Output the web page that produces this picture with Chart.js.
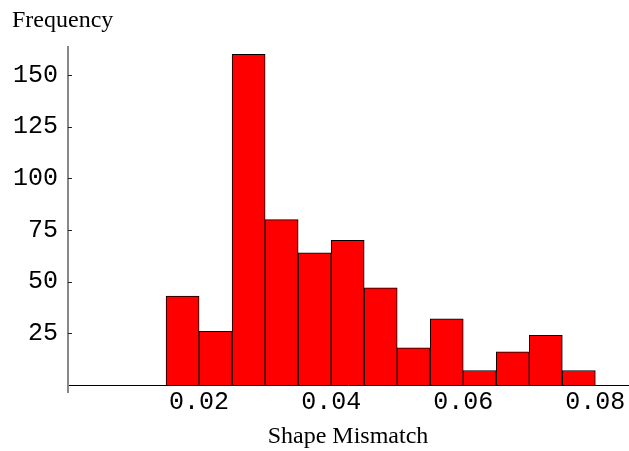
<!DOCTYPE html>
<html>
<head>
<meta charset="utf-8">
<script src="https://cdn.jsdelivr.net/npm/chart.js@4/dist/chart.umd.min.js"></script>
<style>
  html, body { margin: 0; padding: 0; background: #fff; }
  #wrap { width: 629px; height: 451px; }
</style>
</head>
<body>
<div id="wrap"><canvas id="myChart" width="629" height="451"></canvas></div>
<script>
// histogram bins (Shape Mismatch) and counts
const binEdges = [0.015, 0.020, 0.025, 0.030, 0.035, 0.040, 0.045, 0.050, 0.055, 0.060, 0.065, 0.070, 0.075, 0.080];
const counts = [43, 26, 160, 80, 64, 70, 47, 18, 32, 7, 16, 24, 7];
const yTickLabels = [25, 50, 75, 100, 125, 150];
const xTickLabels = ['0.02', '0.04', '0.06', '0.08'];

const points = counts.map((c, i) => ({ x: (binEdges[i] + binEdges[i + 1]) / 2, y: c }));

// y axis drawn Mathematica style: gray line, ticks pointing inward
const axisPlugin = {
  id: 'axisPlugin',
  afterDraw(chart) {
    const ctx = chart.ctx;
    const y = chart.scales.y;
    const area = chart.chartArea;
    const x0 = area.left + 1;
    ctx.save();
    ctx.strokeStyle = '#888';
    ctx.lineWidth = 2;
    ctx.beginPath();
    ctx.moveTo(x0, area.top);
    ctx.lineTo(x0, area.bottom + 8);
    ctx.stroke();
    ctx.lineWidth = 1;
    y.ticks.forEach(t => {
      if (t.value <= 0 || t.value % 5 !== 0) return;
      const py = Math.round(y.getPixelForValue(t.value)) + 0.5;
      const major = t.value % 25 === 0;
      ctx.strokeStyle = major ? '#222' : '#555';
      ctx.beginPath();
      ctx.moveTo(x0, py);
      ctx.lineTo(x0 + (major ? 4 : 3), py);
      ctx.stroke();
    });
    ctx.fillStyle = '#000';
    ctx.font = '24px "Liberation Serif", "Times New Roman", serif';
    ctx.textAlign = 'left';
    ctx.textBaseline = 'alphabetic';
    ctx.fillText('Frequency', 12, 27);
    ctx.restore();
  }
};

let ctx = document.getElementById('myChart');
new Chart(ctx, {
  type: 'bar',
  data: {
    datasets: [{
      label: 'Frequency',
      data: points,
      backgroundColor: '#ff0000',
      borderColor: '#000000',
      borderWidth: 1,
      barPercentage: 1,
      categoryPercentage: 1
    }]
  },
  options: {
    responsive: false,
    animation: false,
    layout: { padding: { top: 46, left: 0, right: 0, bottom: 0 } },
    plugins: {
      legend: { display: false },
      tooltip: { enabled: false }
    },
    scales: {
      x: {
        type: 'linear',
        min: 0,
        max: 0.0851,
        offset: false,
        grid: { display: false, drawTicks: false },
        border: { display: true, color: '#000', width: 1 },
        ticks: {
          stepSize: 0.02,
          includeBounds: false,
          padding: 2,
          maxRotation: 0,
          autoSkip: false,
          color: '#000',
          font: { family: '"Liberation Mono", "Courier New", monospace', size: 25 },
          callback: (v) => {
            const s = v.toFixed(2);
            return xTickLabels.includes(s) && Math.abs(v - parseFloat(s)) < 1e-6 ? s : null;
          }
        },
        title: {
          display: true,
          text: 'Shape Mismatch',
          color: '#000',
          padding: { top: 0, bottom: 0 },
          font: { family: '"Liberation Serif", "Times New Roman", serif', size: 24 }
        },
        afterFit: (scale) => { scale.height = 66; }
      },
      y: {
        min: 0,
        max: 164,
        grid: { display: false, drawTicks: false },
        border: { display: false },
        ticks: {
          stepSize: 5,
          includeBounds: false,
          padding: 9,
          autoSkip: false,
          color: '#000',
          font: { family: '"Liberation Mono", "Courier New", monospace', size: 25 },
          callback: (v) => yTickLabels.includes(v) ? String(v) : null
        },
        afterFit: (scale) => { scale.width = 67; }
      }
    }
  },
  plugins: [axisPlugin]
});
</script>
</body>
</html>
